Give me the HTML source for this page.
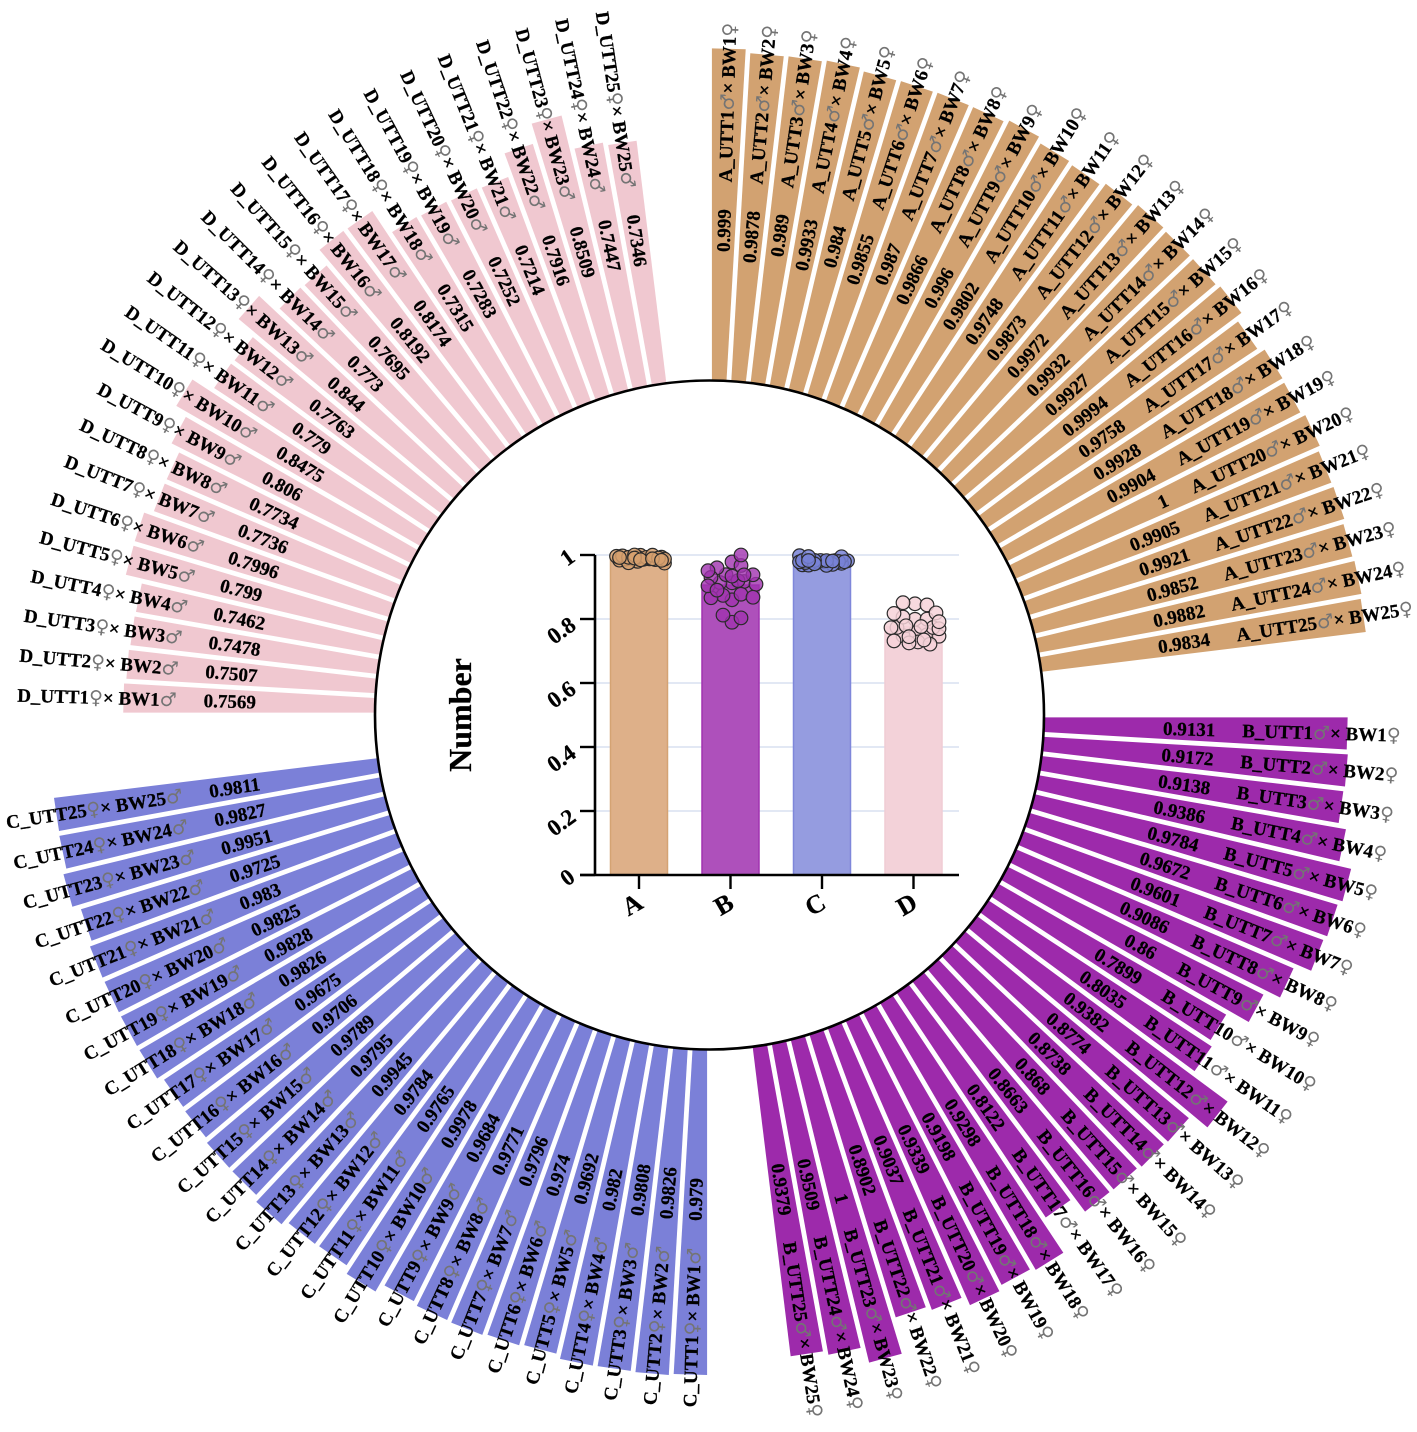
<!DOCTYPE html>
<html lang="en">
<head>
<meta charset="utf-8">
<title>Circular bar chart</title>
<style>
html,body{margin:0;padding:0;background:#fff;}
svg{display:block;filter:blur(0.35px);}
text{font-family:"Liberation Serif","DejaVu Serif",serif;font-weight:bold;fill:#000;stroke:#000;stroke-width:0.25px;}
.sym{font-family:"DejaVu Sans",sans-serif;font-weight:normal;fill:#747474;stroke:none;}
</style>
</head>
<body>
<svg id="chart" xmlns="http://www.w3.org/2000/svg" width="1417" height="1432" viewBox="0 0 1417 1432">
  <g id="ring"></g>
  <circle cx="709.5" cy="715" r="334.5" fill="#fff" stroke="#000" stroke-width="2.6"></circle>
  <g id="inner"></g>
</svg>
<script>
const groupNames = ['A', 'B', 'C', 'D'];
const valuesA = [0.999, 0.9878, 0.989, 0.9933, 0.984, 0.9855, 0.987, 0.9866, 0.996, 0.9802, 0.9748, 0.9873, 0.9972, 0.9932, 0.9927, 0.9994, 0.9758, 0.9928, 0.9904, 1, 0.9905, 0.9921, 0.9852, 0.9882, 0.9834];
const valuesB = [0.9131, 0.9172, 0.9138, 0.9386, 0.9784, 0.9672, 0.9601, 0.9086, 0.86, 0.7899, 0.8035, 0.9382, 0.8774, 0.8738, 0.868, 0.8663, 0.8122, 0.9298, 0.9198, 0.9339, 0.9037, 0.8902, 1, 0.9509, 0.9379];
const valuesC = [0.979, 0.9826, 0.9808, 0.982, 0.9692, 0.974, 0.9796, 0.9771, 0.9684, 0.9978, 0.9765, 0.9784, 0.9945, 0.9795, 0.9789, 0.9706, 0.9675, 0.9826, 0.9828, 0.9825, 0.983, 0.9725, 0.9951, 0.9827, 0.9811];
const valuesD = [0.7569, 0.7507, 0.7478, 0.7462, 0.799, 0.7996, 0.7736, 0.7734, 0.806, 0.8475, 0.779, 0.7763, 0.844, 0.773, 0.7695, 0.8192, 0.8174, 0.7315, 0.7283, 0.7252, 0.7214, 0.7916, 0.8509, 0.7447, 0.7346];
const yTickLabels = ['0', '0.2', '0.4', '0.6', '0.8', '1'];
const yTickValues = [0, 0.2, 0.4, 0.6, 0.8, 1];
const yAxisTitle = 'Number';

const NS = 'http://www.w3.org/2000/svg';
const allValues = [valuesA, valuesB, valuesC, valuesD];
const cx = 709.5, cy = 715, R = 335, radialLength = 332;
const ringStep = 83 / 25, ringPad = 2.4;
const ringFill = ['#d2a271', '#9d2aab', '#7b80d8', '#f0c8d0'];
const femaleSym = '\u2640', maleSym = '\u2642';

function rad(d) { return d * Math.PI / 180; }
function radial(r, deg) { return [cx + r * Math.sin(rad(deg)), cy - r * Math.cos(rad(deg))]; }
function outerRadius(v) { return R + v * radialLength; }
function offsetPoint(r, deg, off) {
  const p = radial(r, deg);
  return [p[0] + off * Math.cos(rad(deg)), p[1] + off * Math.sin(rad(deg))];
}
function addText(parent, x, y, rot, anchor, size, str) {
  const t = document.createElementNS(NS, 'text');
  t.setAttribute('transform', 'translate(' + x.toFixed(2) + ' ' + y.toFixed(2) + ') rotate(' + rot.toFixed(2) + ')');
  t.setAttribute('text-anchor', anchor);
  t.setAttribute('font-size', size);
  t.setAttribute('dy', '0.35em');
  if (str) t.textContent = str;
  parent.appendChild(t);
  return t;
}
function addSpan(t, str, isSym) {
  const s = document.createElementNS(NS, 'tspan');
  if (isSym) s.setAttribute('class', 'sym');
  s.textContent = str;
  t.appendChild(s);
}

const ring = document.getElementById('ring');
allValues.forEach(function (vals, g) {
  const start = g * 90;
  const rightSide = g < 2;
  vals.forEach(function (v, i) {
    const a0 = start + i * ringStep, a1 = a0 + ringStep, mid = (a0 + a1) / 2;
    const ro = outerRadius(v), ri = R - 4;
    const pts = [offsetPoint(ri, a0, ringPad), offsetPoint(ro, a0, ringPad), offsetPoint(ro, a1, -ringPad), offsetPoint(ri, a1, -ringPad)];
    const bar = document.createElementNS(NS, 'polygon');
    bar.setAttribute('points', pts.map(function (p) { return p[0].toFixed(2) + ',' + p[1].toFixed(2); }).join(' '));
    bar.setAttribute('fill', ringFill[g]);
    
    
    ring.appendChild(bar);

    const rot = rightSide ? mid - 90 : mid + 90;
    const vp = radial(506, mid);
    const valueText = addText(ring, vp[0], vp[1], rot, rightSide ? 'end' : 'start', 19, String(v));
    
    

    const lp = radial(533, mid);
    const label = addText(ring, lp[0], lp[1], rot, rightSide ? 'start' : 'end', 19, '');
    
    
    const n = i + 1;
    addSpan(label, groupNames[g] + '_UTT' + n, false);
    addSpan(label, rightSide ? maleSym : femaleSym, true);
    addSpan(label, '\u00d7 BW' + n, false);
    addSpan(label, rightSide ? femaleSym : maleSym, true);
  });
});

/* inner bar chart */
const inner = document.getElementById('inner');
const plotLeft = 595, plotRight = 959, y0 = 875, yPerUnit = 320;
const barWidth = 57, barStep = 91.5, firstBarCenter = 639;
const innerFill = ['#deb089', '#ae50bb', '#959ce0', '#f3d2d9'];
const innerStroke = ['#d4a373', '#a032b0', '#7f87da', '#f0ccd4'];
const dotFill = ['rgba(214,160,110,0.85)', 'rgba(160,50,175,0.8)', 'rgba(120,130,215,0.85)', 'rgba(246,210,216,0.85)'];
function yScale(v) { return y0 - v * yPerUnit; }
function xBand(i) { return firstBarCenter + i * barStep; }
function mean(a) { return a.reduce(function (s, x) { return s + x; }, 0) / a.length; }
function addLine(x1, y1, x2, y2, color, w) {
  const l = document.createElementNS(NS, 'line');
  l.setAttribute('x1', x1); l.setAttribute('y1', y1); l.setAttribute('x2', x2); l.setAttribute('y2', y2);
  l.setAttribute('stroke', color); l.setAttribute('stroke-width', w);
  inner.appendChild(l);
  return l;
}

yTickValues.forEach(function (v, i) {
  const y = yScale(v);
  if (v > 0) {
    const grid = addLine(plotLeft, y, plotRight, y, '#d9e1f1', 1.6);
    
    
  }
});

allValues.forEach(function (vals, g) {
  const h = mean(vals) * yPerUnit;
  const r = document.createElementNS(NS, 'rect');
  r.setAttribute('x', xBand(g) - barWidth / 2);
  r.setAttribute('y', y0 - h);
  r.setAttribute('width', barWidth);
  r.setAttribute('height', h);
  r.setAttribute('fill', innerFill[g]);
  r.setAttribute('stroke', innerStroke[g]);
  r.setAttribute('stroke-width', 1.5);
  
  
  inner.appendChild(r);
});

const yAxis = addLine(plotLeft, yScale(1), plotLeft, y0 + 1, '#000', 2.6);


const xAxis = addLine(580, y0, plotRight, y0, '#000', 2.6);



yTickValues.forEach(function (v, i) {
  const y = yScale(v);
  const tick = addLine(580, y, plotLeft, y, '#000', 2.4);
  
  
  const isShort = yTickLabels[i].length === 1;
  const t = addText(inner, isShort ? 567 : 561, y + (isShort ? 2 : 11), -36, 'middle', 23, yTickLabels[i]);
  
  
});

groupNames.forEach(function (name, g) {
  const x = xBand(g);
  const tick = addLine(x, y0, x, y0 + 14, '#000', 2.4);
  
  
  const t = addText(inner, x - 7, y0 + 29, -30, 'middle', 26, name);
  
  
});

const title = addText(inner, 460, 715, -90, 'middle', 32, yAxisTitle);



/* swarm: each point is pushed sideways until it clears the points already placed */
function swarmOffsets(vals) {
  const placed = [];
  const minDist = 9.5, maxOff = 26, stepOff = 3;
  return vals.map(function (v) {
    const y = yScale(v);
    let best = 0, bestGap = -1;
    const steps = Math.floor(maxOff / stepOff) * 2;
    for (let k = 0; k <= steps; k++) {
      const off = (k % 2 ? 1 : -1) * Math.ceil(k / 2) * stepOff;
      let gap = Infinity;
      placed.forEach(function (p) { gap = Math.min(gap, Math.hypot(p[0] - off, p[1] - y)); });
      if (gap >= minDist) { best = off; bestGap = gap; break; }
      if (gap > bestGap) { bestGap = gap; best = off; }
    }
    placed.push([best, y]);
    return best;
  });
}

allValues.forEach(function (vals, g) {
  const offs = swarmOffsets(vals);
  vals.forEach(function (v, i) {
    const c = document.createElementNS(NS, 'circle');
    c.setAttribute('cx', (xBand(g) + offs[i] + 1.5).toFixed(2));
    c.setAttribute('cy', yScale(v).toFixed(2));
    c.setAttribute('r', 6.8);
    c.setAttribute('fill', dotFill[g]);
    c.setAttribute('stroke', '#2a2a2a');
    c.setAttribute('stroke-width', 1.2);
    
    
    inner.appendChild(c);
  });
});
</script>
</body>
</html>
